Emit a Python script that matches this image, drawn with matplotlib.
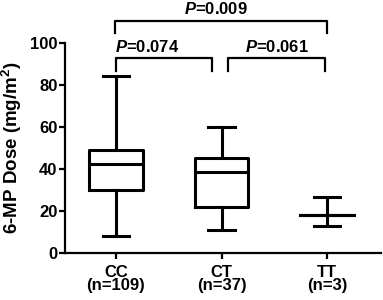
import matplotlib
matplotlib.use('Agg')
import matplotlib.pyplot as plt

plt.rcParams['font.family'] = ['Liberation Sans', 'DejaVu Sans']
plt.rcParams['font.weight'] = 'bold'
plt.rcParams['mathtext.fontset'] = 'custom'
plt.rcParams['mathtext.rm'] = 'Liberation Sans:bold'
plt.rcParams['mathtext.it'] = 'Liberation Sans:bold:italic'

# data
groups = ['CC', 'CT', 'TT']
counts = [109, 37, 3]
whis_lo = [8, 11, 13]
q1 = [30, 22, 18]
med = [42.5, 38.5, 18]
q3 = [49, 45, 18]
whis_hi = [84, 60, 26.5]

# comparisons: x start, x end, p value, bracket height, text x, text align
brackets = [
    (1.00, 1.91, '0.074', 92.7, 0.99, 'left'),
    (2.06, 2.98, '0.061', 92.7, 2.52, 'center'),
    (0.99, 3.00, '0.009', 110.6, 1.95, 'center'),
]

stats = []
for i, g in enumerate(groups):
    stats.append(dict(label=g, whislo=whis_lo[i], q1=q1[i], med=med[i],
                      q3=q3[i], whishi=whis_hi[i], fliers=[]))

fig = plt.figure(figsize=(3.83, 3.0), dpi=100)
ax = fig.add_axes([0.170, 0.157, 0.825, 0.70])

lw = 2.2
ax.bxp(stats, positions=[1, 2, 3], widths=0.51, showfliers=False,
       boxprops=dict(linewidth=lw, color='black'),
       medianprops=dict(linewidth=lw, color='black'),
       whiskerprops=dict(linewidth=lw, color='black'),
       capprops=dict(linewidth=lw, color='black'),
       capwidths=0.25)

ax.set_xlim(0.52, 3.51)
ax.set_ylim(0, 100)
ax.set_yticks([0, 20, 40, 60, 80, 100])
ax.set_xticks([1, 2, 3])
ax.set_xticklabels([f'{g}\n(n={n})' for g, n in zip(groups, counts)],
                   linespacing=0.85)
for s in ['top', 'right']:
    ax.spines[s].set_visible(False)
for s in ['left', 'bottom']:
    ax.spines[s].set_linewidth(1.6)
ax.tick_params(width=1.6, length=4.5, labelsize=12)
ax.tick_params(axis='x', pad=4)
ax.tick_params(axis='y', pad=1)
ax.set_ylabel('6-MP Dose (mg/m$^2$)', fontsize=13.5, fontweight='bold')
ax.yaxis.set_label_coords(-0.13, 0.5)

for x0, x1, p, h, xt, ha in brackets:
    ax.plot([x0, x0, x1, x1], [h - 6, h, h, h - 6], color='black',
            linewidth=1.6, clip_on=False)
    ax.text(xt, h + 3.2, '$\\mathit{P}$=' + p, ha=ha, va='baseline',
            fontsize=12, fontweight='bold')

fig.savefig('out.png', dpi=100)
